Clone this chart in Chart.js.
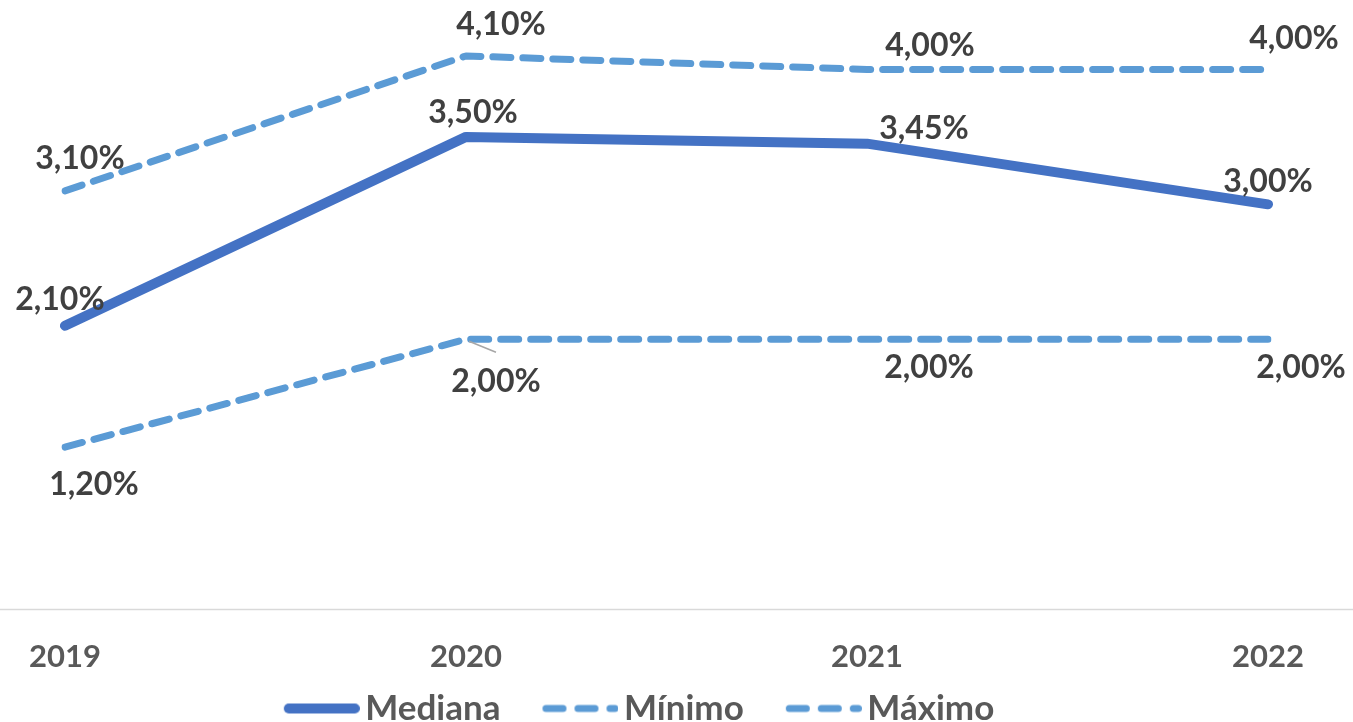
<!DOCTYPE html>
<html>
<head>
<meta charset="utf-8">
<title>Mediana, Mínimo y Máximo</title>
<script src="https://cdn.jsdelivr.net/npm/chart.js@4.4.1/dist/chart.umd.min.js"></script>
<style>
    html, body { margin: 0; padding: 0; background: #ffffff; }
    #wrap { width: 1353px; height: 722px; position: relative; }
</style>
</head>
<body>
<div id="wrap"><canvas id="chart"></canvas></div>
<script>
// Chart data
const years = ['2019', '2020', '2021', '2022'];
const mediana = [2.10, 3.50, 3.45, 3.00];
const minimo = [1.20, 2.00, 2.00, 2.00];
const maximo = [3.10, 4.10, 4.00, 4.00];

// Label offsets from each point (dx, dy), per dataset
const labelOffsets = [
    [[-5, -26], [7, -24], [57, -15], [0, -23]],
    [[29, 38], [30, 42], [62, 28], [33, 28]],
    [[15, -32], [35, -31], [63, -24], [26, -31]]
];

const FONT = 'Lato, "Open Sans", sans-serif';
const MEDIANA_COLOR = '#4472C4';
const RANGE_COLOR = '#5B9BD5';

function formatPct(v) {
    return v.toFixed(2).replace('.', ',') + '%';
}

// Legend sample line, with some blank room on its left
function makeLegendSample(color, width, dash) {
    const pad = 38;
    const len = 76;
    const c = document.createElement('canvas');
    c.width = pad + len;
    c.height = 14;
    const g = c.getContext('2d');
    g.strokeStyle = color;
    g.lineWidth = width;
    g.lineCap = 'round';
    g.setLineDash(dash);
    g.beginPath();
    g.moveTo(pad + width / 2, 7);
    g.lineTo(pad + len - width / 2, 7);
    g.stroke();
    return c;
}

const legendSamples = [
    makeLegendSample(MEDIANA_COLOR, 10, []),
    makeLegendSample(RANGE_COLOR, 7, [17, 15]),
    makeLegendSample(RANGE_COLOR, 7, [17, 15])
];

// Grey baseline across the whole width
const baselinePlugin = {
    id: 'baseline',
    beforeDatasetsDraw(chart) {
        const ctx = chart.ctx;
        const y = Math.round(chart.scales.y.getPixelForValue(0)) + 0.5;
        ctx.save();
        ctx.strokeStyle = '#D9D9D9';
        ctx.lineWidth = 1.5;
        ctx.beginPath();
        ctx.moveTo(0, y);
        ctx.lineTo(chart.width, y);
        ctx.stroke();
        ctx.restore();
    }
};

// Value labels next to each point
const valueLabelsPlugin = {
    id: 'valueLabels',
    afterDatasetsDraw(chart) {
        const ctx = chart.ctx;
        ctx.save();
        ctx.font = 'bold 32px ' + FONT;
        ctx.fillStyle = '#404040';
        ctx.textAlign = 'center';
        ctx.textBaseline = 'middle';
        chart.data.datasets.forEach((ds, i) => {
            const meta = chart.getDatasetMeta(i);
            meta.data.forEach((pt, j) => {
                const off = labelOffsets[i][j];
                ctx.fillText(formatPct(ds.data[j]), pt.x + off[0], pt.y + off[1]);
            });
        });
        // leader line for the 2020 minimum label
        const p = chart.getDatasetMeta(1).data[1];
        ctx.strokeStyle = '#A6A6A6';
        ctx.lineWidth = 1.5;
        ctx.beginPath();
        ctx.moveTo(p.x + 3, p.y + 2);
        ctx.lineTo(p.x + 30, p.y + 13);
        ctx.stroke();
        ctx.restore();
    }
};

const ctx = document.getElementById('chart').getContext('2d');
new Chart(ctx, {
    type: 'line',
    data: {
        labels: years,
        datasets: [
            {
                label: 'Mediana',
                data: mediana,
                borderColor: MEDIANA_COLOR,
                backgroundColor: MEDIANA_COLOR,
                borderWidth: 10,
                borderCapStyle: 'round',
                borderJoinStyle: 'round',
                pointRadius: 0,
                tension: 0
            },
            {
                label: 'Mínimo',
                data: minimo,
                borderColor: RANGE_COLOR,
                backgroundColor: RANGE_COLOR,
                borderWidth: 7,
                borderDash: [18, 12],
                borderCapStyle: 'round',
                borderJoinStyle: 'round',
                pointRadius: 0,
                tension: 0
            },
            {
                label: 'Máximo',
                data: maximo,
                borderColor: RANGE_COLOR,
                backgroundColor: RANGE_COLOR,
                borderWidth: 7,
                borderDash: [18, 12],
                borderCapStyle: 'round',
                borderJoinStyle: 'round',
                pointRadius: 0,
                tension: 0
            }
        ]
    },
    options: {
        responsive: true,
        maintainAspectRatio: false,
        animation: false,
        layout: {
            padding: { left: -16, right: 85, top: 2, bottom: -14 }
        },
        scales: {
            x: {
                offset: false,
                grid: { display: false, drawTicks: false },
                border: { display: false },
                ticks: {
                    color: '#595959',
                    font: { family: FONT, size: 31, weight: 'bold', lineHeight: 1.2 },
                    padding: 29,
                    maxRotation: 0
                },
                afterFit: (scale) => { scale.height = 66; }
            },
            y: {
                position: 'left',
                min: 0,
                max: 4.5,
                grid: { display: false, drawTicks: false },
                border: { display: false },
                ticks: { display: false },
                afterFit: (scale) => { scale.width = 79; }
            }
        },
        plugins: {
            legend: {
                position: 'bottom',
                labels: {
                    color: '#595959',
                    font: { family: FONT, size: 35, weight: 'bold', lineHeight: 1.0 },
                    usePointStyle: true,
                    boxWidth: 90,
                    boxHeight: 14,
                    pointStyleWidth: 90,
                    padding: 16,
                    generateLabels: (chart) => {
                        const items = Chart.defaults.plugins.legend.labels.generateLabels(chart);
                        items.forEach((item, i) => { item.pointStyle = legendSamples[i]; });
                        return items;
                    }
                }
            },
            tooltip: { enabled: false }
        }
    },
    plugins: [baselinePlugin, valueLabelsPlugin]
});
</script>
</body>
</html>
